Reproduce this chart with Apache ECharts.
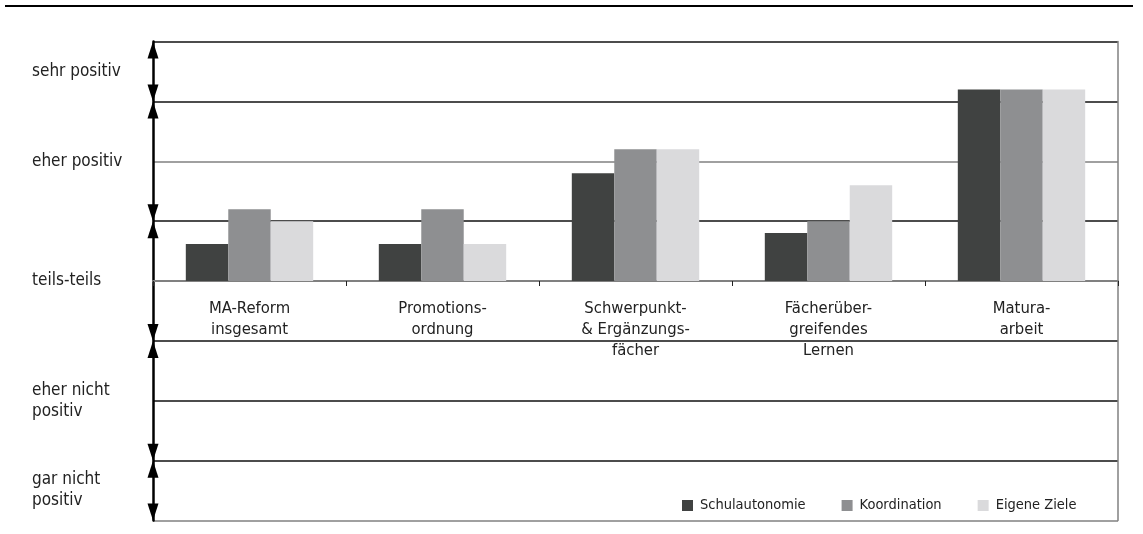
<!DOCTYPE html>
<html>
<head>
<meta charset="utf-8">
<script src="https://cdn.jsdelivr.net/npm/echarts@6/dist/echarts.min.js"></script>
<style>
html,body{margin:0;padding:0;background:#fff;}
#chart{width:1143px;height:534px;}
</style>
</head>
<body>
<div id="chart"></div>
<script>
// ---- data ----
var categories = ['MA-Reform\ninsgesamt', 'Promotions-\nordnung', 'Schwerpunkt-\n& Ergänzungs-\nfächer', 'Fächerüber-\ngreifendes\nLernen', 'Matura-\narbeit'];
var seriesNames = ['Schulautonomie', 'Koordination', 'Eigene Ziele'];
var schulautonomie = [0.31, 0.31, 0.90, 0.40, 1.60];
var koordination   = [0.60, 0.60, 1.10, 0.50, 1.60];
var eigeneZiele    = [0.50, 0.31, 1.10, 0.80, 1.60];
var ratingLabels = ['sehr positiv', 'eher positiv', 'teils-teils', 'eher nicht\npositiv', 'gar nicht\npositiv'];
var ratingCenters = [1.75, 1.0, 0.0, -1.0, -1.75];
var ratingBounds = [[2, 1.5], [1.5, 0.5], [0.5, -0.5], [-0.5, -1.5], [-1.5, -2]];
var yMin = -2, yMax = 2;

var FONT = "'DejaVu Sans Condensed', 'Liberation Sans Narrow', sans-serif";
var colors = ['#404241', '#8e8f91', '#dadadc'];
var gridColors = ['#808080', '#111', '#111', '#111', '#808080', '#111', '#808080', '#111', '#111'];

var GRID_TOP = 41.5, GRID_BOTTOM = 13.5, H = 534;
var gridHeight = H - GRID_TOP - GRID_BOTTOM;
// shift the category axis from the grid bottom up to the value 0
var zeroOffset = -((0 - yMin) / (yMax - yMin)) * gridHeight;

var chart = echarts.init(document.getElementById('chart'), null, {renderer: 'canvas'});

function arrowItem(params, api) {
  var p1 = api.coord([api.value(0), api.value(1)]);
  var p2 = api.coord([api.value(0), api.value(2)]);
  var half = api.size([1, 0])[0] / 2;
  var x = p1[0] - half;
  var L = 17, W = 5.5;
  return {
    type: 'group',
    children: [
      {type: 'polygon', shape: {points: [[x, p1[1]], [x - W, p1[1] + L], [x + W, p1[1] + L]]}, style: {fill: '#000'}},
      {type: 'polygon', shape: {points: [[x, p2[1]], [x - W, p2[1] - L], [x + W, p2[1] - L]]}, style: {fill: '#000'}}
    ]
  };
}

var option = {
  animation: false,
  backgroundColor: '#fff',
  color: colors,
  grid: {left: 153, right: 25, top: GRID_TOP, bottom: GRID_BOTTOM, containLabel: false, outerBoundsMode: 'none'},
  graphic: [
    {type: 'line', shape: {x1: 5, y1: 6, x2: 1133, y2: 6}, style: {stroke: '#000', lineWidth: 2}}
  ],
  legend: {
    data: seriesNames,
    left: 677, top: 493,
    icon: 'rect', itemWidth: 11, itemHeight: 11, itemGap: 36,
    textStyle: {fontFamily: FONT, fontSize: 14.5, color: '#222', padding: [0, 0, 0, 2]}
  },
  xAxis: {
    type: 'category',
    data: categories,
    position: 'bottom',
    offset: zeroOffset,
    axisLine: {onZero: false, lineStyle: {color: '#808080', width: 2}},
    axisTick: {show: true, length: 5, lineStyle: {color: '#222', width: 1}},
    axisLabel: {fontFamily: FONT, fontSize: 16.5, color: '#222', lineHeight: 21, margin: 17, interval: 0},
    splitLine: {show: false}
  },
  yAxis: [
    {
      type: 'value', min: yMin, max: yMax, interval: 0.5, position: 'left',
      axisLine: {show: true, onZero: false, lineStyle: {color: '#000', width: 2.5}},
      axisTick: {show: false}, axisLabel: {show: false},
      splitLine: {show: true, lineStyle: {color: gridColors, width: 1.5}}
    },
    {
      type: 'value', min: yMin, max: yMax, interval: 0.5, position: 'right',
      axisLine: {show: true, onZero: false, lineStyle: {color: '#808080', width: 1.5}},
      axisTick: {show: false}, axisLabel: {show: false}, splitLine: {show: false}
    },
    {
      type: 'value', min: yMin, max: yMax, interval: 0.25, position: 'left', offset: 0,
      axisLine: {show: false}, axisTick: {show: false}, splitLine: {show: false},
      axisLabel: {
        show: true, align: 'left', margin: 121, fontFamily: FONT, fontSize: 17, color: '#222', lineHeight: 21,
        showMinLabel: true, showMaxLabel: true,
        formatter: function (v) {
          for (var i = 0; i < ratingCenters.length; i++) {
            if (Math.abs(v - ratingCenters[i]) < 1e-6) return ratingLabels[i];
          }
          return '';
        }
      }
    }
  ],
  series: [
    {name: seriesNames[0], type: 'bar', data: schulautonomie, barGap: '0%', barCategoryGap: '34%'},
    {name: seriesNames[1], type: 'bar', data: koordination, barGap: '0%', barCategoryGap: '34%'},
    {name: seriesNames[2], type: 'bar', data: eigeneZiele, barGap: '0%', barCategoryGap: '34%'},
    {
      type: 'custom', name: 'arrows', renderItem: arrowItem, clip: false, z: 5,
      encode: {x: 0, y: [1, 2]},
      data: ratingBounds.map(function (b) { return [0, b[0], b[1]]; })
    }
  ]
};
chart.setOption(option);
</script>
</body>
</html>
